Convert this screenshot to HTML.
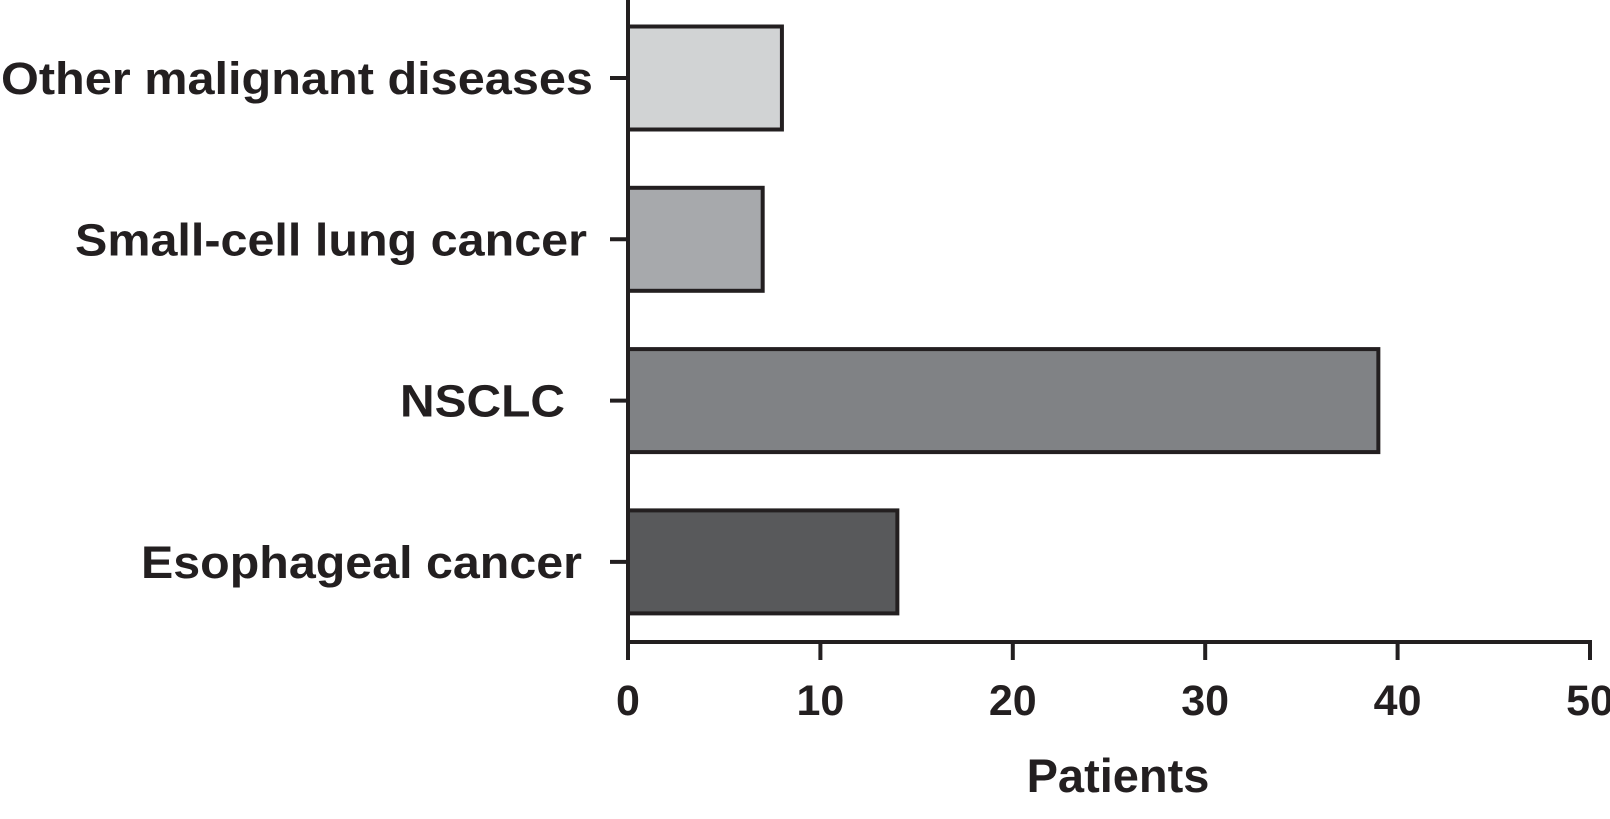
<!DOCTYPE html>
<html><head><meta charset="utf-8"><style>
body{margin:0;background:#fff;width:1610px;height:814px;overflow:hidden}
svg text{font-family:"Liberation Sans",Arial,sans-serif;font-weight:bold;fill:#231f20}
</style></head><body>
<svg id="chart" width="1610" height="814" viewBox="0 0 1610 814"></svg>
<script>
const categories=["Other malignant diseases","Small-cell lung cancer","NSCLC","Esophageal cancer"];
const values=[8,7,39,14];
const colors=["#d1d3d4","#a7a9ac","#808285","#58595b"];
const ticks=[0,10,20,30,40,50];
const xAxisTitle="Patients";
const labelEnds=[593,587,565,582];
const labelWidths=[592,512,165,441];
const svg=document.getElementById('chart');
const NS='http://www.w3.org/2000/svg';
const x0=628,x1=1590,yAxisBottom=642;
const xs=v=>x0+(v/50)*(x1-x0);
const yc=i=>78+i*161.3;
const bh=103;
function mk(t,a){const e=document.createElementNS(NS,t);for(const k in a)e.setAttribute(k,a[k]);svg.appendChild(e);return e;}
categories.forEach((c,i)=>{
  const r=mk('rect',{x:xs(0),y:yc(i)-bh/2,width:xs(values[i])-xs(0),height:bh,fill:colors[i],stroke:'#231f20','stroke-width':4});
  
  
  const tk=mk('line',{x1:610,x2:628,y1:yc(i),y2:yc(i),stroke:'#231f20','stroke-width':4});
  
  
  const t=mk('text',{x:labelEnds[i]-labelWidths[i],y:yc(i)+16,'font-size':45,textLength:labelWidths[i],lengthAdjust:'spacingAndGlyphs'});
  t.textContent=c;
  
  
});
const ya=mk('line',{x1:x0,x2:x0,y1:0,y2:yAxisBottom+2,stroke:'#231f20','stroke-width':4});


const xa=mk('line',{x1:x0-2,x2:x1+2,y1:yAxisBottom,y2:yAxisBottom,stroke:'#231f20','stroke-width':4});


ticks.forEach(v=>{
  const l=mk('line',{x1:xs(v),x2:xs(v),y1:yAxisBottom,y2:660,stroke:'#231f20','stroke-width':4});
  
  
  const t=mk('text',{x:xs(v),y:715,'font-size':43,'text-anchor':'middle'});
  t.textContent=v;
  
  
});
const tt=mk('text',{x:1118,y:792,'font-size':47,'text-anchor':'middle'});
tt.textContent=xAxisTitle;


</script>
</body></html>
